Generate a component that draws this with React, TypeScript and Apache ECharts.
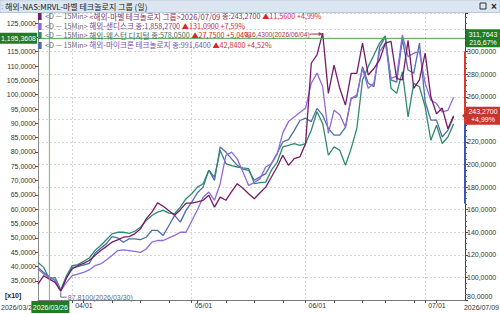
import React, { useEffect, useRef } from "react";
import * as echarts from "echarts";

// ---------- data ----------
const DATES = [
  "2026/03/24", "2026/03/25", "2026/03/26", "2026/03/27", "2026/03/30", "2026/03/31",
  "2026/04/01", "2026/04/02", "2026/04/06", "2026/04/07", "2026/04/08", "2026/04/09", "2026/04/10",
  "2026/04/13", "2026/04/14", "2026/04/15", "2026/04/16", "2026/04/17",
  "2026/04/20", "2026/04/21", "2026/04/22", "2026/04/23", "2026/04/24",
  "2026/04/27", "2026/04/28", "2026/04/29", "2026/04/30",
  "2026/05/01", "2026/05/04", "2026/05/05", "2026/05/06", "2026/05/07", "2026/05/08",
  "2026/05/11", "2026/05/12", "2026/05/13", "2026/05/14", "2026/05/15",
  "2026/05/18", "2026/05/19", "2026/05/20", "2026/05/21", "2026/05/22",
  "2026/05/26", "2026/05/27", "2026/05/28", "2026/05/29",
  "2026/06/01", "2026/06/02", "2026/06/03", "2026/06/04", "2026/06/05",
  "2026/06/08", "2026/06/09", "2026/06/10", "2026/06/11", "2026/06/12",
  "2026/06/15", "2026/06/16", "2026/06/17", "2026/06/18",
  "2026/06/22", "2026/06/23", "2026/06/24", "2026/06/25", "2026/06/26",
  "2026/06/29", "2026/06/30",
  "2026/07/01", "2026/07/02", "2026/07/06", "2026/07/07", "2026/07/08", "2026/07/09",
];

const MRVL = [
  94, 101.5, 98.45, 95.6, 87.81, 99.5, 107.5, 110.4, 112.4, 115,
  119.4, 123.8, 127.3, 131.2, 133.3, 135.6, 136.2, 138.6, 143, 151.9,
  157.8, 166, 163, 159, 155, 160, 165.8, 165.8, 167, 168.3,
  172.7, 162.2, 171.1, 168.3, 176, 183, 179, 174.1, 169.7, 175,
  180, 188.9, 197.8, 208.2, 199.3, 205.2, 206.7, 218.6, 289.7, 297.1,
  316.43, 263, 288, 267.5, 252.6, 280.8, 280.8, 307.5, 279.3, 285,
  292.6, 307.5, 309, 276, 275, 310, 267.5, 275, 298.6, 260,
  245, 250, 231.71, 243.27,
];

const SNDK = [
  107.5, 103, 100, 97.7, 88.2, 95.6, 101.5, 103, 104.4, 106.6,
  110.4, 111.9, 115.5, 119.4, 123.8, 124.4, 123.8, 123, 122.2, 125.2,
  131.2, 132.7, 132.7, 135, 137.2, 140, 140, 150, 160, 171,
  175.6, 168.3, 183, 208, 211, 205, 193.3, 181.5, 184, 187.5,
  197.8, 200.8, 209, 228, 238, 242, 246, 250, 272, 281,
  269, 227.5, 248, 244, 233, 258.6, 261.5, 285, 267.5, 272,
  300, 307.5, 276.4, 278, 314.8, 295.6, 298.6, 300, 272, 257,
  254, 246.7, 248, 259.5,
];

const MU = [
  108.9, 104.4, 100.6, 97.2, 88.5, 100, 108.9, 109.5, 111, 112.4,
  121.4, 125.8, 129.7, 136.2, 135, 131.2, 134.1, 134.1, 133.5, 135.6,
  141.6, 141.6, 137.2, 146, 155, 149, 159.4, 166.7, 175, 180,
  195, 186, 215.6, 211, 205, 199.3, 196, 194.9, 186.1, 189,
  191.9, 200.8, 210, 220, 222, 230, 239, 241, 238, 249.7,
  243.7, 232, 226, 226, 233, 258.6, 260, 286.7, 272, 269,
  304, 313, 275, 273, 311, 283.7, 280.8, 307.5, 255.6, 239.3,
  239.3, 224.4, 230.4, 242.2,
];

const WDC = [
  113.3, 108.9, 98.6, 100, 89, 101.5, 110.4, 111.3, 114.2, 117.2,
  123.8, 128.3, 133.3, 138.6, 140, 140, 139.1, 140.9, 144.4, 150.4,
  154.8, 157.8, 159.4, 157, 156.4, 162.2, 169.7, 174.1, 180, 183,
  195, 188.9, 212.6, 200.8, 199, 197.8, 197, 196.4, 183, 184,
  184.4, 195, 202, 215.6, 217, 218.6, 217, 218.6, 230.4, 246.7,
  236.4, 208.2, 215.6, 212.6, 199.3, 214.1, 231.9, 274.8, 286.7, 297,
  307.5, 314, 267.5, 263, 282.2, 242.2, 271.9, 268.9, 251.1, 221.5,
  234.8, 218.6, 224.4, 236,
];

const LEFT_TICKS = [35, 40, 45, 50, 55, 60, 65, 70, 75, 80, 85, 90, 95, 100, 105, 110, 115, 120, 125];
const LEFT_MIN = 28.37;
const LEFT_MAX = 128.49;
const RIGHT_MIN = 80;
const RIGHT_MAX = 334.2;
const RIGHT_STEP = 20;

const TITLE = "해외-NAS:MRVL-마벨 테크놀로지 그룹 (일)";
const CROSS_DATE = "2026/03/26";
const CROSS_VALUE = 311.7643;
const CROSS_LEFT = "1,195,3608";
const CROSS_RIGHT = "311,7643\n216,67%";
const LAST_LABEL = "243,2700\n+4,99%";
const RANGE_RED = [300, 236.6];
const RANGE_BLUE = [236.6, 165.5];
const MAX_TEXT = "316,4300(2026/06/04)";
const MIN_TEXT = "87.8100(2026/03/30)";

const COLORS = { mrvl: "#771a68", sndk: "#8f6ada", wdc: "#2f8a70", mu: "#4d6ea6" };

const LEGEND_PREFIX = "<D — 15Min> ";
const LEGEND = [
  { mark: COLORS.mrvl, nameColor: "#8a3458", name: "<해외-마벨 테크놀로지 그룹>2026/07/09 ", value: "종:243,2700 ", chg: "▲11,5600 +4,99%" },
  { mark: COLORS.sndk, nameColor: "#7a3f8c", name: "해외-샌디스크 ", value: "종:1,858,2700 ", chg: "▲131,0900 +7,59%" },
  { mark: COLORS.wdc, nameColor: "#3f6e60", name: "해외-웨스턴 디지털 ", value: "종:578,0500 ", chg: "▲27,7500 +5,04%" },
  { mark: COLORS.mu, nameColor: "#7c4fae", name: "해외-마이크론 테크놀로지 ", value: "종:991,6400 ", chg: "▲42,8400 +4,52%" },
];
const LEGEND_Y = [16.1, 25.6, 35.1, 44.6];

const GRID = { left: 38, right: 35, top: 13, bottom: 14 };
const W = 500;
const H = 314;
const KR = '"Noto Sans CJK KR", "Noto Sans", sans-serif';
const NUM = '"Liberation Sans", Arial, sans-serif';

const fmt4 = (v: number) => v.toFixed(4).replace(".", ",");

export default function App() {
  const ref = useRef<HTMLDivElement>(null);
  useEffect(() => {
    document.body.style.margin = "0";
    const chart = echarts.init(ref.current!, null, { renderer: "svg" });
    const cats = [...DATES, "", ""];
    const mon = (i: number) => DATES[i].slice(5, 7);
    const isMonthStart = (i: number) => i > 0 && i < DATES.length && mon(i) !== mon(i - 1);
    const dayNum = (s: string) => {
      const [y, m, d] = s.split("/").map(Number);
      return Date.UTC(y, m - 1, d) / 86400000;
    };
    const dow = (s: string) => new Date(dayNum(s) * 86400000).getUTCDay();
    const isWeekStart = (i: number) =>
      i > 0 && i < DATES.length && (dow(DATES[i]) <= dow(DATES[i - 1]) || dayNum(DATES[i]) - dayNum(DATES[i - 1]) >= 7);

    const line = (name: string, data: number[], color: string, z: number) => ({
      type: "line",
      name,
      data,
      yAxisIndex: 1,
      symbol: "none",
      showSymbol: false,
      silent: true,
      z,
      lineStyle: { color, width: 1.3 },
      itemStyle: { color },
    });

    const baseOption = (hideRight: (v: number) => boolean, hideLeft: (v: number) => boolean) => ({
      animation: false,
      backgroundColor: "#ffffff",
      grid: { ...GRID, containLabel: false },
      xAxis: {
        type: "category",
        data: cats,
        boundaryGap: false,
        axisLine: { lineStyle: { color: "#7a7a7a", width: 1 } },
        axisTick: {
          show: true,
          length: 3,
          interval: (i: number) => isWeekStart(i) || isMonthStart(i),
          lineStyle: { color: "#555" },
        },
        axisLabel: {
          interval: (i: number) => isMonthStart(i),
          formatter: (v: string) => v.slice(5),
          align: "left",
          padding: [0, 0, 0, 3],
          margin: 2,
          fontSize: 7,
          fontFamily: NUM,
          color: "#333",
        },
        splitLine: {
          show: true,
          interval: (i: number) => isMonthStart(i),
          lineStyle: { color: "#d6d6d6", type: [2, 2] },
        },
      },
      yAxis: [
        {
          type: "value",
          position: "left",
          min: LEFT_MIN,
          max: LEFT_MAX,
          axisLine: { show: true, lineStyle: { color: "#8a8a8a" } },
          axisTick: { show: true, length: 3, customValues: LEFT_TICKS, lineStyle: { color: "#555" } },
          axisLabel: {
            customValues: LEFT_TICKS,
            formatter: (v: number) => (hideLeft(v) ? "" : fmt4(v)),
            fontSize: 7,
            fontFamily: NUM,
            color: "#333",
            margin: 2,
          },
          splitLine: { show: false },
        },
        {
          type: "value",
          position: "right",
          min: RIGHT_MIN,
          max: RIGHT_MAX,
          interval: RIGHT_STEP,
          axisLine: { show: true, lineStyle: { color: "#444" } },
          axisTick: { show: true, length: 3, lineStyle: { color: "#444" } },
          minorTick: { show: true, splitNumber: 4, length: 2, lineStyle: { color: "#666" } },
          axisLabel: {
            showMaxLabel: false,
            formatter: (v: number) => (hideRight(v) ? "" : fmt4(v)),
            fontSize: 7,
            fontFamily: NUM,
            color: "#333",
            margin: 2,
            verticalAlignMinLabel: "bottom",
          },
          splitLine: { show: true, lineStyle: { color: "#d6d6d6", type: [2, 2] } },
        },
      ],
      series: [
        line("해외-마이크론 테크놀로지", MU, COLORS.mu, 2),
        line("해외-웨스턴 디지털", WDC, COLORS.wdc, 3),
        line("해외-샌디스크", SNDK, COLORS.sndk, 4),
        line("해외-마벨 테크놀로지 그룹", MRVL, COLORS.mrvl, 5),
      ],
    });

    chart.setOption(baseOption(() => false, () => false));

    const px = (i: number, v: number) => chart.convertToPixel({ xAxisIndex: 0, yAxisIndex: 1 }, [i, v]) as number[];
    const yL = (v: number) => chart.convertToPixel({ yAxisIndex: 0 }, v) as number;
    const L = GRID.left;
    const R = W - GRID.right;
    const T = GRID.top;
    const B = H - GRID.bottom;

    const crossIdx = DATES.indexOf(CROSS_DATE);
    const [cx, cy] = px(crossIdx, CROSS_VALUE);
    const last = MRVL.length - 1;
    const [, ly] = px(last, MRVL[last]);
    let maxI = 0, minI = 0;
    MRVL.forEach((v, i) => {
      if (v > MRVL[maxI]) maxI = i;
      if (v < MRVL[minI]) minI = i;
    });
    const [mxX, mxY] = px(maxI, MRVL[maxI]);
    const [mnX, mnY] = px(minI, MRVL[minI]);
    const yR = (v: number) => px(0, v)[1];
    const green = "#1f7d23";
    const crossLine = "#72b872";

    // axis labels hidden behind the value boxes
    const hideRight = (v: number) => Math.abs(yR(v) - cy) < 11 || Math.abs(yR(v) - ly) < 11;
    const hideLeft = (v: number) => Math.abs(yL(v) - cy) < 8;
    chart.setOption(baseOption(hideRight, hideLeft));

    const legendLines = LEGEND.map((l, k) => ({
      type: "text",
      z: 50,
      silent: true,
      style: {
        x: 38,
        y: LEGEND_Y[k],
        verticalAlign: "middle",
        text: `{m|▌}{g|${LEGEND_PREFIX}}{n|${l.name}}{v|${l.value}}{r|${l.chg}}`,
        rich: {
          m: { fill: l.mark, fontSize: 7, fontFamily: KR, lineHeight: 7 },
          g: { fill: "#6a6a6a", fontSize: 7.2, fontFamily: KR, lineHeight: 7 },
          n: { fill: l.nameColor, fontSize: 7.6, fontFamily: KR, lineHeight: 7 },
          v: { fill: l.nameColor, fontSize: 7.2, fontFamily: KR, lineHeight: 7 },
          r: { fill: "#d42a2a", fontSize: 7.2, fontFamily: KR, lineHeight: 7 },
        },
      },
    }));

    const graphic: any[] = [
      // title bar
      { type: "rect", z: 40, silent: true, shape: { x: 0, y: 0, width: W, height: 12.5 }, style: { fill: "#dce6f1", stroke: "#b9c9dc", lineWidth: 1 } },
      { type: "text", z: 41, silent: true, style: { x: 1, y: 6, text: ":", verticalAlign: "middle", fill: "#6c7c90", fontSize: 8, fontFamily: NUM } },
      { type: "text", z: 41, silent: true, style: { x: 5, y: 6.2, text: TITLE, verticalAlign: "middle", fill: "#222", fontSize: 8, fontFamily: KR, lineHeight: 9 } },
      { type: "rect", z: 41, silent: true, shape: { x: 480, y: 3, width: 6, height: 6 }, style: { fill: "none", stroke: "#333", lineWidth: 1 } },
      { type: "text", z: 41, silent: true, style: { x: 491, y: 6, text: "×", verticalAlign: "middle", fill: "#222", fontSize: 10, fontWeight: "bold", fontFamily: NUM, lineHeight: 10 } },
      // crosshair
      { type: "line", z: 30, silent: true, shape: { x1: cx, y1: T, x2: cx, y2: B }, style: { stroke: crossLine, lineWidth: 1 } },
      { type: "line", z: 30, silent: true, shape: { x1: L, y1: cy, x2: R, y2: cy }, style: { stroke: "#4fa24f", lineWidth: 1 } },
      { type: "rect", z: 45, silent: true, shape: { x: 0, y: cy - 5.5, width: L - 1, height: 11 }, style: { fill: green } },
      { type: "text", z: 46, silent: true, style: { x: (L - 1) / 2, y: cy, text: CROSS_LEFT, align: "center", verticalAlign: "middle", fill: "#fff", fontSize: 7, fontFamily: NUM } },
      { type: "rect", z: 45, silent: true, shape: { x: R + 1, y: cy - 9, width: W - R - 1, height: 18 }, style: { fill: green } },
      { type: "text", z: 46, silent: true, style: { x: R + 18, y: cy, text: CROSS_RIGHT, align: "center", verticalAlign: "middle", lineHeight: 8, fill: "#fff", fontSize: 7, fontFamily: NUM } },
      { type: "rect", z: 45, silent: true, shape: { x: cx - 18, y: B + 1, width: 38, height: 12 }, style: { fill: green } },
      { type: "text", z: 46, silent: true, style: { x: cx + 1, y: B + 7, text: CROSS_DATE, align: "center", verticalAlign: "middle", fill: "#fff", fontSize: 7, fontFamily: NUM } },
      // edge date labels
      { type: "text", z: 44, silent: true, style: { x: 1, y: B + 7, text: DATES[0], verticalAlign: "middle", fill: "#333", fontSize: 7, fontFamily: NUM } },
      { type: "text", z: 44, silent: true, style: { x: W - 1, y: B + 7, text: DATES[last], align: "right", verticalAlign: "middle", fill: "#333", fontSize: 7, fontFamily: NUM } },
      { type: "text", z: 44, silent: true, style: { x: 5, y: B - 5, text: "[x10]", verticalAlign: "middle", fill: "#222", fontSize: 7, fontWeight: "bold", fontFamily: NUM } },
      // right axis range bars
      { type: "line", z: 35, silent: true, shape: { x1: R, y1: yR(RANGE_RED[0]), x2: R, y2: yR(RANGE_RED[1]) }, style: { stroke: "#d83a2e", lineWidth: 2 } },
      { type: "line", z: 35, silent: true, shape: { x1: R, y1: yR(RANGE_BLUE[0]), x2: R, y2: yR(RANGE_BLUE[1]) }, style: { stroke: "#3a56b8", lineWidth: 2 } },
      // last price label
      { type: "polygon", z: 45, silent: true, shape: { points: [[R - 3, ly], [R + 1, ly - 4], [R + 1, ly + 4]] }, style: { fill: "#c8352b" } },
      { type: "rect", z: 45, silent: true, shape: { x: R + 1, y: ly - 9, width: W - R - 1, height: 18 }, style: { fill: "#c8352b" } },
      { type: "text", z: 46, silent: true, style: { x: R + 18, y: ly, text: LAST_LABEL, align: "center", verticalAlign: "middle", lineHeight: 8, fill: "#fff", fontSize: 7, fontFamily: NUM } },
      // max label
      { type: "line", z: 36, silent: true, shape: { x1: mxX - 13, y1: mxY + 1, x2: mxX - 1, y2: mxY + 1 }, style: { stroke: "#a13a3a", lineWidth: 1 } },
      { type: "polygon", z: 36, silent: true, shape: { points: [[mxX, mxY + 1], [mxX - 4, mxY - 1], [mxX - 4, mxY + 3]] }, style: { fill: "#a13a3a" } },
      { type: "text", z: 36, silent: true, style: { x: mxX - 13, y: mxY + 1, text: MAX_TEXT, align: "right", verticalAlign: "middle", fill: "#a13a3a", fontSize: 6.6, fontFamily: NUM } },
      // min label
      { type: "polyline", z: 36, silent: true, shape: { points: [[mnX, mnY + 1], [mnX, mnY + 6], [mnX + 6, mnY + 6]] }, style: { stroke: "#5e6f8e", lineWidth: 1, fill: "none" } },
      { type: "text", z: 36, silent: true, style: { x: mnX + 7, y: mnY + 6, text: MIN_TEXT, verticalAlign: "middle", fill: "#5e6f8e", fontSize: 7, fontFamily: NUM } },
      ...legendLines,
    ];
    chart.setOption({ graphic });

    return () => chart.dispose();
  }, []);
  return <div ref={ref} style={{ position: "absolute", left: 0, top: 0, width: W, height: H }} />;
}
